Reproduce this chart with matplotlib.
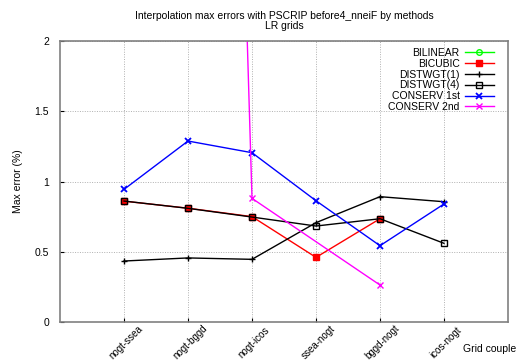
import numpy as np
import matplotlib
matplotlib.use("Agg")
import matplotlib.pyplot as plt
import matplotlib.transforms as mtransforms

plt.rcParams["font.family"] = ["Liberation Sans", "DejaVu Sans"]

couples = ["nogt-ssea", "nogt-bggd", "nogt-icos", "ssea-nogt", "bggd-nogt", "icos-nogt"]
nan = np.nan

bilinear = [nan, nan, nan, nan, nan, nan]
bicubic = [0.86, 0.81, 0.75, 0.46, 0.735, nan]
distwgt1 = [0.434, 0.456, 0.446, 0.707, 0.892, 0.856]
distwgt4 = [0.861, 0.809, 0.747, 0.683, 0.735, 0.56]
conserv1 = [0.944, 1.288, 1.205, 0.863, 0.543, 0.84]
conserv2 = [nan, 16.0, 0.88, nan, 0.263, nan]

series = [
    ("BILINEAR", bilinear, "#00ff00", dict(marker="o", mfc="none", ms=4)),
    ("BICUBIC", bicubic, "#ff0000", dict(marker="s", ms=4)),
    ("DISTWGT(1)", distwgt1, "#000000", dict(marker="+", ms=5)),
    ("DISTWGT(4)", distwgt4, "#000000", dict(marker="s", mfc="none", ms=4)),
    ("CONSERV 1st", conserv1, "#0000ff", dict(marker="x", ms=4, mew=1.3)),
    ("CONSERV 2nd", conserv2, "#ff00ff", dict(marker="x", ms=4)),
]

fig = plt.figure(figsize=(5.2, 3.61), dpi=100)
ax = fig.add_axes([60 / 520, 1 - 322 / 361, 448 / 520, 281 / 361])

x = np.arange(1, len(couples) + 1)
for label, vals, color, style in series:
    v = np.asarray(vals, dtype=float)
    ok = ~np.isnan(v)
    ax.plot(x[ok], v[ok], color=color, lw=1.0, label=label, mec=color, **style)

ax.set_xlim(0, 7)
ax.set_ylim(0, 2)
ax.set_xticks(x)
ax.set_xticklabels([])
# rotated category labels, centred just below each tick
lbl_tr = mtransforms.blended_transform_factory(ax.transData, fig.transFigure) + \
    mtransforms.ScaledTranslation(2 / 100, 0, fig.dpi_scale_trans)
for xi, name in zip(x, couples):
    ax.text(xi, 1 - 342 / 361, name, transform=lbl_tr, rotation=45,
            ha="center", va="center", fontsize=7, rotation_mode="anchor")

ax.set_yticks([0, 0.5, 1, 1.5, 2])
ax.set_yticklabels(["0", "0.5", "1", "1.5", "2"], fontsize=7.5)
ax.tick_params(axis="both", direction="in", length=3, width=0.8, color="#000000")
ax.tick_params(axis="y", pad=8)
ax.grid(True, linestyle=(0, (1, 1.5)), color="#b0b0b0", lw=0.7)
for s in ax.spines.values():
    s.set_color("#808080")
    s.set_linewidth(1.2)

fig.text(18 / 520, 1 - 181 / 361, "Max error (%)", fontsize=7.5, rotation=90,
         ha="center", va="center")
fig.text(490 / 520, 1 - 349 / 361, "Grid couple", fontsize=7.5, ha="center", va="center")
fig.text(284 / 520, 1 - 16 / 361, "Interpolation max errors with PSCRIP before4_nneiF by methods",
         fontsize=7.5, ha="center", va="center")
fig.text(284 / 520, 1 - 26 / 361, "LR grids", fontsize=7.5, ha="center", va="center")

leg = ax.legend(loc="upper right", frameon=False, markerfirst=False, fontsize=7.5,
                handlelength=2.8, handletextpad=0.5, labelspacing=0.08,
                borderaxespad=0.0, bbox_to_anchor=(0.978, 0.99))
for t in leg.get_texts():
    t.set_ha("right")

fig.savefig("out.png", dpi=100)
